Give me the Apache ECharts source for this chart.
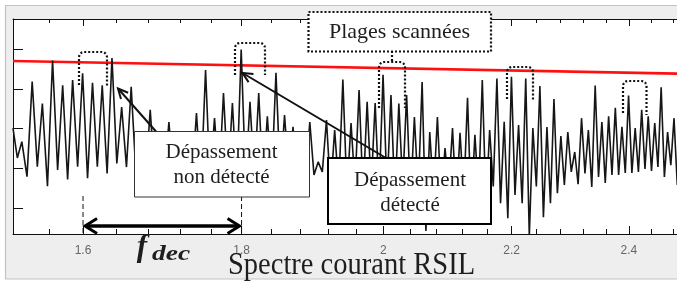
<!DOCTYPE html>
<html><head><meta charset="utf-8">
<script src="https://cdn.jsdelivr.net/npm/echarts@6/dist/echarts.min.js"></script>
<style>html,body{margin:0;padding:0;background:#fff;}#c{width:677px;height:283px;}</style>
</head><body><div id="c"></div>
<script>
// ---- data (frequency in MHz, level in dB) ----
const freqMHz = [
1.5189,1.5238,1.5289,1.5348,1.5407,1.5466,1.5524,1.5583,1.5642,1.5701,
1.5760,1.5818,1.5877,1.5936,1.5995,1.6054,1.6113,1.6171,1.6230,1.6289,
1.6348,1.6407,1.6466,1.6525,1.6583,1.6642,1.6701,1.6760,1.6819,1.6877,
1.6936,1.6995,1.7054,1.7113,1.7172,1.7230,1.7289,1.7348,1.7407,1.7466,
1.7525,1.7583,1.7642,1.7701,1.7760,1.7819,1.7878,1.7936,1.7995,1.8054,
1.8113,1.8172,1.8231,1.8289,1.8348,1.8407,1.8466,1.8525,1.8584,1.8642,
1.8701,1.8760,1.8819,1.8878,1.8936,1.8995,1.9054,1.9113,1.9172,1.9230,
1.9289,1.9348,1.9407,1.9466,1.9525,1.9583,1.9642,1.9701,1.9760,1.9819,
1.9878,1.9936,1.9995,2.0054,2.0113,2.0172,2.0231,2.0289,2.0348,2.0407,
2.0466,2.0525,2.0584,2.0642,2.0701,2.0760,2.0819,2.0878,2.0937,2.0995,
2.1054,2.1113,2.1172,2.1231,2.1290,2.1348,2.1407,2.1466,2.1525,2.1584,
2.1643,2.1701,2.1760,2.1819,2.1878,2.1937,2.1996,2.2054,2.2113,2.2172,
2.2231,2.2290,2.2349,2.2407,2.2466,2.2525,2.2584,2.2643,2.2702,2.2760,
2.2819,2.2878,2.2937,2.2996,2.3055,2.3113,2.3172,2.3231,2.3290,2.3349,
2.3408,2.3466,2.3525,2.3584,2.3643,2.3702,2.3761,2.3819,2.3878,2.3937,
2.3996,2.4055,2.4114,2.4172,2.4231,2.4290,2.4349,2.4408,2.4467,2.4525,
2.4584,2.4643,2.4702,2.4761,2.4820,2.4880
];
const levelDB = [
40.1,32.6,36.7,27.9,51.8,30.4,46.3,25.5,57.1,29.6,
50.9,27.2,52.2,30.4,53.9,27.5,51.5,30.4,50.9,28.7,
57.7,31.2,45.4,30.3,50.5,28.3,37.1,27.0,44.7,27.5,
37.1,26.5,41.6,27.5,36.6,27.0,38.9,26.5,43.9,25.8,
54.7,27.0,42.6,26.5,48.9,27.0,46.4,25.8,59.9,27.0,
46.7,27.5,48.9,26.5,43.1,27.0,54.0,27.5,43.4,28.3,
40.4,27.0,37.1,28.1,41.6,28.3,31.6,29.1,42.1,24.5,
39.6,25.0,52.3,24.0,41.4,25.5,49.7,23.3,46.7,25.0,
46.4,23.0,53.5,24.5,48.4,22.5,46.3,25.5,48.4,22.0,
42.9,24.0,51.7,14.2,39.1,23.3,42.9,22.0,35.1,24.5,
40.1,20.8,38.9,23.0,47.7,19.5,38.4,23.3,52.2,20.8,
39.6,25.4,52.6,21.2,41.7,17.4,53.0,23.3,40.9,21.2,
52.6,12.9,40.1,25.4,50.7,17.7,40.4,21.2,47.4,23.7,
38.1,25.8,39.1,29.1,34.1,26.0,42.6,28.7,39.6,25.3,
50.8,27.8,41.6,26.3,43.1,28.3,45.2,28.3,40.4,28.8,
48.3,28.8,40.1,29.1,44.7,29.8,43.1,29.3,41.4,30.3,
50.4,27.8,39.1,30.8,42.6,25.8
];
const limitFreq = [1.5189, 2.4875];
const limitLevel = [57.0, 53.8];
const majorTicks = [1.6, 1.8, 2.0, 2.2, 2.4];
const tickLabels = ['1.6', '1.8', '2', '2.2', '2.4'];
const minorTicks = [1.56,1.64,1.68,1.72,1.76,1.84,1.88,1.92,1.96,2.04,2.08,2.12,2.16,2.24,2.28,2.32,2.36,2.44,2.48];
const yTicks = [20, 30, 40, 50, 60];
const xRange = [1.5189, 2.4875];
const yRange = [13.46, 67.55];

// ---- chart ----
const lg = v => Math.log10(v);
const majorLog = majorTicks.map(lg);
function labelFor(v) {
  let best = 0, bd = Infinity;
  majorLog.forEach((m, i) => { const d = Math.abs(m - v); if (d < bd) { bd = d; best = i; } });
  return tickLabels[best];
}
const AX = '#111111';
function xAx(grid, pos, ticks, len, withLine, withLabel) {
  return {
    type: 'value', gridIndex: grid, position: pos,
    min: lg(xRange[0]), max: lg(xRange[1]),
    axisLine: { show: withLine, lineStyle: { color: AX, width: 1 } },
    axisTick: { show: true, inside: true, length: len, customValues: ticks.map(lg), lineStyle: { color: AX, width: 1 } },
    axisLabel: withLabel ? { show: true, customValues: majorLog, formatter: labelFor, color: '#666', fontSize: 12, fontFamily: '"Liberation Sans", Arial', margin: 11 } : { show: false },
    splitLine: { show: false }
  };
}
const chart = echarts.init(document.getElementById('c'), null, { renderer: 'canvas', width: 677, height: 283 });
const gridPos = { left: 13, top: 19, right: 0, bottom: 49 };
chart.setOption({
  animation: false,
  backgroundColor: '#ffffff',
  grid: [Object.assign({}, gridPos), Object.assign({}, gridPos)],
  xAxis: [
    xAx(0, 'bottom', majorTicks, 8, true, true),
    xAx(0, 'top', majorTicks, 7, true, false),
    xAx(1, 'bottom', minorTicks, 5, false, false),
    xAx(1, 'top', minorTicks, 4, false, false)
  ],
  yAxis: [
    { type: 'value', gridIndex: 0, min: yRange[0], max: yRange[1],
      axisLine: { show: true, lineStyle: { color: AX, width: 1 } },
      axisTick: { show: true, inside: true, length: 10, customValues: yTicks, lineStyle: { color: AX } },
      axisLabel: { show: false }, splitLine: { show: false } },
    { type: 'value', gridIndex: 1, min: yRange[0], max: yRange[1], show: false }
  ],
  series: [
    { type: 'line', xAxisIndex: 0, yAxisIndex: 0, z: 2, showSymbol: false, symbol: 'none',
      data: limitFreq.map((f, i) => [lg(f), limitLevel[i]]),
      lineStyle: { color: '#ff1010', width: 2.6 } },
    { type: 'line', xAxisIndex: 0, yAxisIndex: 0, z: 3, showSymbol: false, symbol: 'none', clip: true,
      data: freqMHz.map((f, i) => [lg(f), levelDB[i]]),
      lineStyle: { color: '#161616', width: 1.6 } }
  ]
});

// ---- annotations ----
const px16 = chart.convertToPixel({ xAxisIndex: 0 }, lg(1.6));
const px18 = chart.convertToPixel({ xAxisIndex: 0 }, lg(1.8));
const yAxisBottom = chart.convertToPixel({ yAxisIndex: 0 }, yRange[0]);
const DOT = { stroke: '#111', lineWidth: 2.2, lineDash: [2, 2], fill: null };
const TXT = '#1e1e1e';
function uBox(x1, x2, yt, ybL, ybR) {
  const r = 5, pts = [[x1, ybL], [x1, yt + r]];
  for (let k = 1; k < 4; k++) { const a = Math.PI - k * Math.PI / 8; pts.push([x1 + r + r * Math.cos(a), yt + r - r * Math.sin(a)]); }
  pts.push([x1 + r, yt], [x2 - r, yt]);
  for (let k = 1; k < 4; k++) { const a = Math.PI / 2 - k * Math.PI / 8; pts.push([x2 - r + r * Math.cos(a), yt + r - r * Math.sin(a)]); }
  pts.push([x2, yt + r], [x2, ybR]);
  return { type: 'polyline', z: 60, shape: { points: pts }, style: Object.assign({}, DOT) };
}
function head(tip, from, len, ang) {
  const dx = from[0] - tip[0], dy = from[1] - tip[1], d = Math.hypot(dx, dy);
  const ux = dx / d, uy = dy / d, c = Math.cos(ang), s = Math.sin(ang);
  return [[tip[0] + len * (ux * c - uy * s), tip[1] + len * (ux * s + uy * c)], tip,
          [tip[0] + len * (ux * c + uy * s), tip[1] + len * (-ux * s + uy * c)]];
}
function arrow(tip, from, w) {
  return [
    { type: 'line', z: 70, shape: { x1: from[0], y1: from[1], x2: tip[0], y2: tip[1] }, style: { stroke: '#111', lineWidth: w } },
    { type: 'polyline', z: 70, shape: { points: head(tip, from, 11, 0.45) }, style: { stroke: '#111', lineWidth: w, fill: null, lineJoin: 'miter' } }
  ];
}
function txt(t, x, y, font, opts) {
  return Object.assign({ type: 'text', z: 80, x: x, y: y,
    style: { text: t, x: 0, y: 0, font: font, fill: TXT, textAlign: 'center', textVerticalAlign: 'middle', align: 'center', verticalAlign: 'middle' } }, opts || {});
}
const yArr = 226;
const SERIF = '"Liberation Serif", "Times New Roman", serif';
const g = [
  { type: 'rect', z: -10, shape: { x: 5.5, y: 5.5, width: 700, height: 273.5 }, style: { fill: '#eeeeee', stroke: '#c3c3c3', lineWidth: 1.2 } },
  { type: 'rect', z: -9, shape: { x: 13, y: 19, width: 680, height: 215 }, style: { fill: '#ffffff' } },
  // dotted scan windows
  uBox(79, 107, 52, 85, 87),
  uBox(235, 265, 43, 75, 75),
  uBox(379, 405, 62, 108, 108),
  uBox(507, 533, 67, 99, 100),
  uBox(623, 646.5, 81, 113, 115),
  { type: 'line', z: 60, shape: { x1: 392, y1: 51, x2: 392, y2: 62 }, style: Object.assign({}, DOT) },
  // "Plages scannées" box
  { type: 'rect', z: 65, shape: { x: 308.5, y: 12, width: 182.5, height: 39.5 }, style: Object.assign({}, DOT, { fill: '#ffffff' }) },
  txt('Plages scannées', 399.5, 32, '22px ' + SERIF),
  // arrows
  ...arrow([118, 88.5], [156, 131.5], 2),
  ...arrow([242.5, 73], [386, 158], 2),
  // "Dépassement non détecté"
  { type: 'rect', z: 75, shape: { x: 134.5, y: 131.5, width: 175, height: 65.5 }, style: { fill: '#ffffff', stroke: '#333', lineWidth: 1 } },
  txt('Dépassement', 221.5, 152, '21px ' + SERIF),
  txt('non détecté', 221.5, 177, '21px ' + SERIF),
  // "Dépassement détecté"
  { type: 'rect', z: 75, shape: { x: 328, y: 158, width: 163, height: 66 }, style: { fill: '#ffffff', stroke: '#000', lineWidth: 2 } },
  txt('Dépassement', 410, 180, '21px ' + SERIF),
  txt('détecté', 410, 205, '21px ' + SERIF),
  // f_dec span
  { type: 'line', z: 70, shape: { x1: px16, y1: 196, x2: px16, y2: yAxisBottom }, style: { stroke: '#111', lineWidth: 1, lineDash: [5, 3] } },
  { type: 'line', z: 70, shape: { x1: px18, y1: 196, x2: px18, y2: yAxisBottom }, style: { stroke: '#111', lineWidth: 1, lineDash: [5, 3] } },
  { type: 'line', z: 72, shape: { x1: px16 + 3, y1: yArr, x2: px18 - 3, y2: yArr }, style: { stroke: '#000', lineWidth: 3.5 } },
  { type: 'polyline', z: 72, shape: { points: [[px16 + 14, yArr - 7.5], [px16 + 2, yArr], [px16 + 14, yArr + 7.5]] }, style: { stroke: '#000', lineWidth: 3, fill: null } },
  { type: 'polyline', z: 72, shape: { points: [[px18 - 14, yArr - 7.5], [px18 - 2, yArr], [px18 - 14, yArr + 7.5]] }, style: { stroke: '#000', lineWidth: 3, fill: null } },
  txt('f', 142, 248, 'italic bold 31px ' + SERIF),
  txt('dec', 171, 254, 'italic bold 22px ' + SERIF, { scaleX: 1.25 }),
  // title
  txt('Spectre courant RSIL', 351.5, 266, '31px ' + SERIF, { scaleX: 0.92 })
];
chart.setOption({ graphic: { elements: g } });
</script>
</body></html>
